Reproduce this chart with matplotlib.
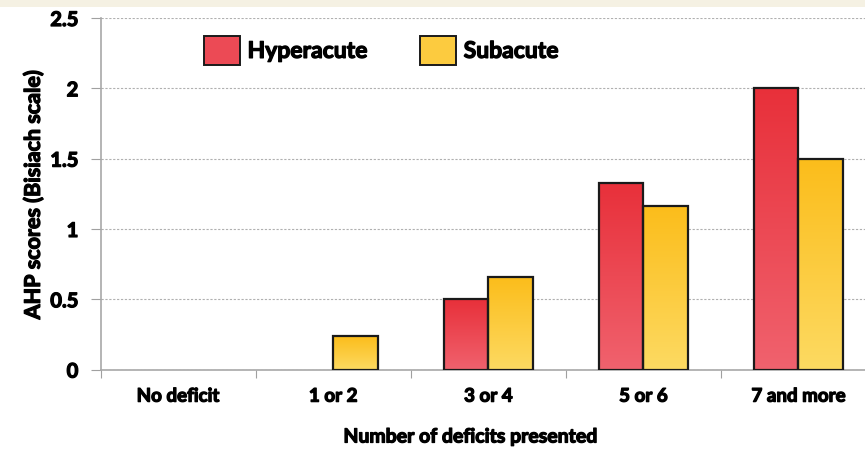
import numpy as np
import matplotlib
matplotlib.use('Agg')
import matplotlib.pyplot as plt
import matplotlib.patheffects as pe
from matplotlib.patches import Patch, Rectangle
from matplotlib.colors import LinearSegmentedColormap

categories = ["No deficit", "1 or 2", "3 or 4", "5 or 6", "7 and more"]
hyperacute = [0, 0, 0.5, 1.33, 2.0]
subacute = [0, 0.24, 0.66, 1.16, 1.5]
yticks = [0, 0.5, 1, 1.5, 2, 2.5]
ytick_labels = ["0", "0.5", "1", "1.5", "2", "2.5"]

RED_TOP, RED_BOT = "#e8303a", "#f0626e"
YEL_TOP, YEL_BOT = "#fbbd1b", "#fdda62"
FONT = ['Lato', 'DejaVu Sans']
WEIGHT = 'bold'
# thicken glyphs a little, the original text is very heavy
HEAVY = [pe.withStroke(linewidth=0.9, foreground='black')]

plt.rcParams['font.family'] = FONT
plt.rcParams['font.weight'] = WEIGHT

W, H = 865, 452
fig = plt.figure(figsize=(W / 100, H / 100), dpi=100)
fig.patch.set_facecolor('white')
# beige strip on top
fig.patches.append(Rectangle((0, 1 - 8 / H), 1, 8 / H, transform=fig.transFigure,
                             facecolor='#f5f1e3', edgecolor='none', zorder=0))

x0, x1 = 100.5, 876
y0, y1 = 370.6, 19
ax = fig.add_axes([x0 / W, (H - y0) / H, (x1 - x0) / W, (y0 - y1) / H])
ax.set_facecolor('none')

x = np.arange(len(categories))
bw = 0.287


def gradient_bars(xpos, vals, top, bot, zorder=3):
    cmap = LinearSegmentedColormap.from_list('g', [bot, top])
    grad = np.linspace(0, 1, 256).reshape(-1, 1)
    bars = ax.bar(xpos, vals, bw, facecolor='none', edgecolor='#1a1a1a',
                  linewidth=1.6, zorder=zorder + 1)
    for b in bars:
        h = b.get_height()
        if h <= 0:
            b.set_visible(False)
            continue
        bx = b.get_x()
        ax.imshow(grad, cmap=cmap, origin='lower', aspect='auto',
                  extent=[bx, bx + b.get_width(), 0, h], zorder=zorder,
                  interpolation='bilinear')
    return bars


gradient_bars(x - bw / 2, hyperacute, RED_TOP, RED_BOT)
gradient_bars(x + bw / 2, subacute, YEL_TOP, YEL_BOT)

ax.set_xlim(-0.5, len(categories) - 0.5)
ax.set_ylim(0, 2.5)

ax.set_yticks(yticks)
ax.set_yticklabels(ytick_labels, fontsize=14.5, fontweight=WEIGHT, path_effects=HEAVY)
ax.yaxis.grid(True, linestyle=(0, (2, 1.5)), color='#b0b0b0', linewidth=0.8)
ax.set_axisbelow(True)

# category ticks at boundaries, labels at centers
ax.set_xticks(np.arange(len(categories) + 1) - 0.5)
ax.set_xticklabels([])
ax.set_xticks(x, minor=True)
ax.set_xticklabels(categories, minor=True, fontsize=13.5, fontweight=WEIGHT, path_effects=HEAVY)
ax.tick_params(axis='x', which='minor', length=0, pad=13)
ax.tick_params(axis='x', which='major', length=6, color='#a0a0a0', direction='out')
ax.tick_params(axis='y', length=7, color='#a0a0a0', pad=9)

for s in ['top', 'right']:
    ax.spines[s].set_visible(False)
for s in ['left', 'bottom']:
    ax.spines[s].set_color('#a8a8a8')
    ax.spines[s].set_linewidth(1.2)

fig.text(33 / W, 1 - 196 / H, "AHP scores (Bisiach scale)", rotation=90, ha='center',
         va='center', fontsize=15.5, fontweight=WEIGHT, path_effects=HEAVY)
fig.text(471 / W, 1 - 438 / H, "Number of deficits presented", ha='center', va='center',
         fontsize=14, fontweight=WEIGHT, path_effects=HEAVY)

handles = [Patch(facecolor='#ec4a55', edgecolor='#1a1a1a', linewidth=1.4, label='Hyperacute'),
           Patch(facecolor='#fccb3f', edgecolor='#1a1a1a', linewidth=1.4, label='Subacute')]
leg = ax.legend(handles=handles, loc='upper left', bbox_to_anchor=(204 / W, 1 - 37 / H),
                bbox_transform=fig.transFigure, ncol=2, frameon=False,
                prop={'family': FONT, 'weight': WEIGHT, 'size': 16.5},
                handlelength=1.55, handleheight=1.55, handletextpad=0.35, columnspacing=2.3,
                borderaxespad=0, borderpad=0)
for t in leg.get_texts():
    t.set_path_effects(HEAVY)

fig.savefig('out.png', dpi=100)
